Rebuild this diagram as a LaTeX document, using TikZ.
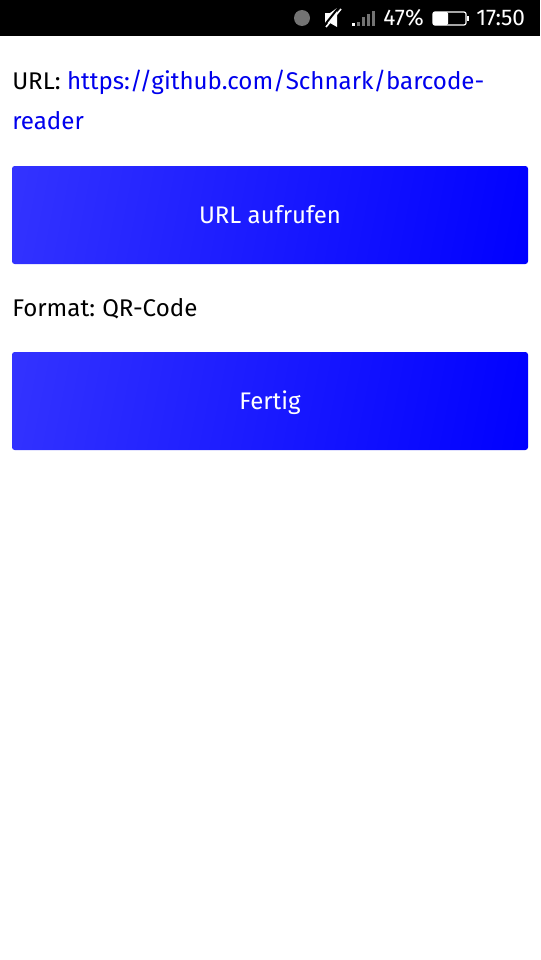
\documentclass[tikz,border=0pt]{standalone}
\usepackage{fontspec}
\setmainfont{Fira Sans}
\usetikzlibrary{positioning}
\definecolor{linkblue}{rgb}{0,0,0.93}
\definecolor{btnlight}{rgb}{0.2,0.2,1}
\definecolor{btndark}{rgb}{0,0,1}
\definecolor{dimgrey}{rgb}{0.45,0.45,0.45}
\pgfdeclarehorizontalshading{btnshade}{100bp}{color(0bp)=(btnlight); color(20.8bp)=(btnlight); color(79.2bp)=(btndark); color(100bp)=(btndark)}
\tikzset{
	btn/.style={
		rectangle,
		rounded corners=2pt,
		shade,
		shading=btnshade,
		shading angle=-10.8,
		text=white,
		font=\fontsize{18}{18}\selectfont,
		minimum width=387pt,
		minimum height=73.5pt,
		text height=12.5pt,
		text depth=0pt,
		inner sep=0pt,
		text centered},
	line/.style={
		anchor=base west,
		inner sep=0pt,
		font=\fontsize{18.1}{18.1}\selectfont},
	status/.style={
		anchor=base west,
		inner sep=0pt,
		text=white,
		font=\fontsize{17}{17}\selectfont},
	bar/.style={
		line width=2.1pt,
		dimgrey}
}
\begin{document}
\begin{tikzpicture}[x=0.75pt,y=0.75pt,yscale=-1,xscale=1]
\useasboundingbox (0,0) rectangle (540,960);
\fill[black] (0,0) rectangle (540,36);
% Status bar
\fill[dimgrey] (302,18) circle (8);
\fill[white] (325,13) -- (330,13) -- (337,8) -- (337,27) -- (330,23) -- (325,23) -- cycle;
\draw[black,line width=1.5pt] (323,27) -- (339,7);
\draw[white,line width=1.2pt] (326,27) -- (341,9);
\draw[bar,white] (353.5,26) -- (353.5,23);
\foreach \x/\y in {358.5/22,363.5/17,368.5/14,373.5/11}
	\draw[bar] (\x,26) -- (\x,\y);
\node[status] (pct) at (383,26) {47\%};
\draw[white,line width=0.9pt,rounded corners=1.5pt] (433,12) rectangle (466,25);
\fill[white,rounded corners=1pt] (433,12) rectangle (448,25);
\fill[white] (467,16) rectangle (469,21);
\node[status] (clock) at (476,26) {17:50};
% Text and buttons
\node[line] (url) at (12,89) {URL: \textcolor{linkblue}{https://github.com/Schnark/barcode-}};
\node[line,text=linkblue] (urlcont) at (12,129) {reader};
\node[btn] (open) at (270,215) {URL aufrufen};
\node[line] (format) at (12,316) {Format:\hspace{-1pt} QR-Code};
\node[btn] (done) at (270,401) {Fertig};
\end{tikzpicture}
\end{document}
